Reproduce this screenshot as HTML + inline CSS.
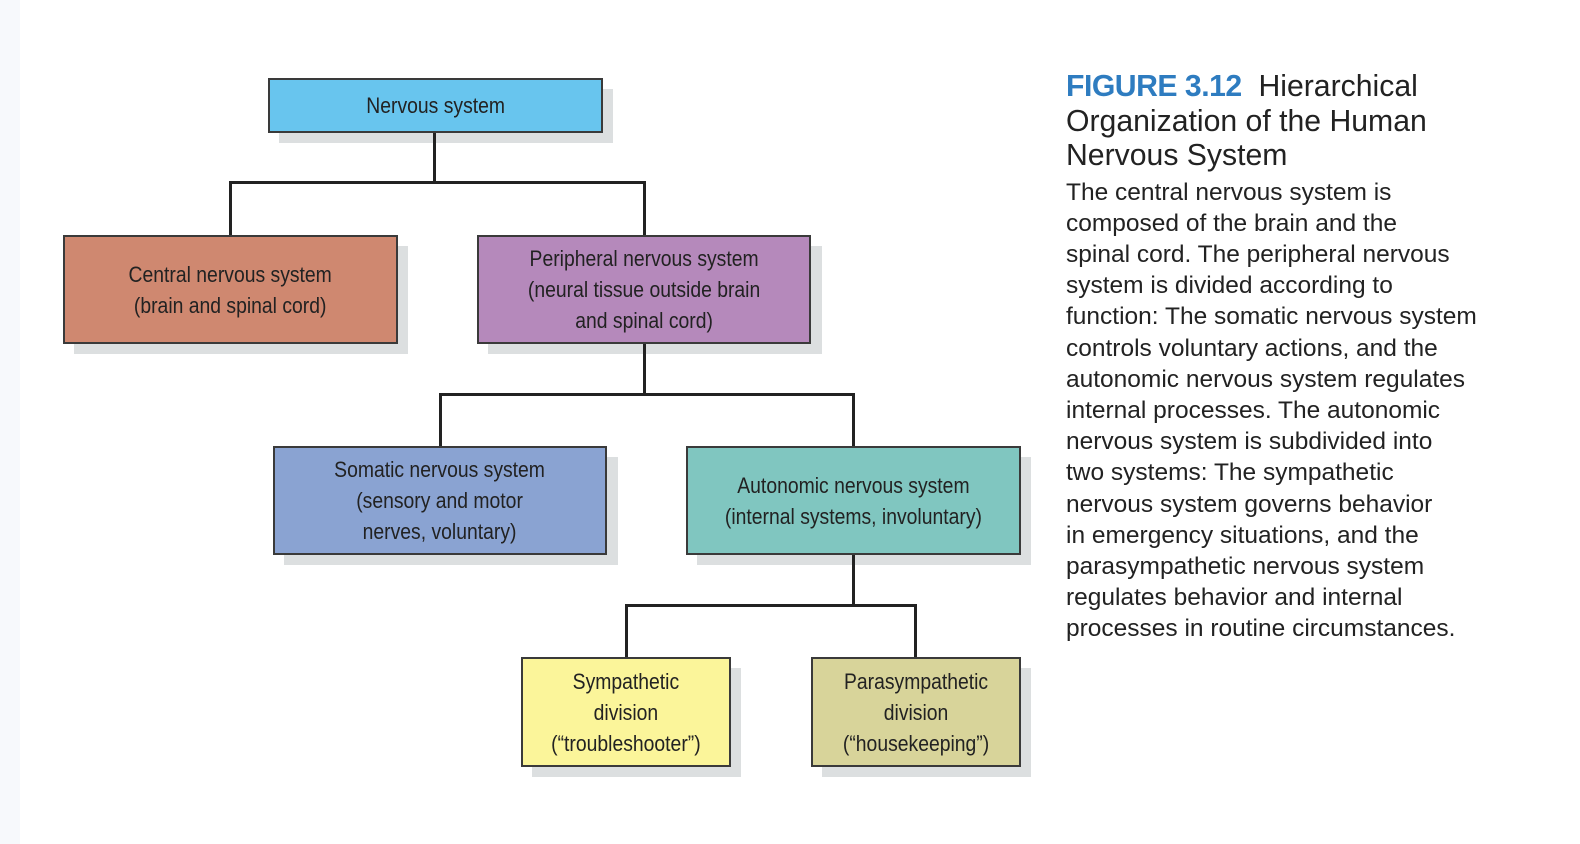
<!DOCTYPE html>
<html><head><meta charset="utf-8"><style>
body{margin:0;width:1580px;height:844px;background:#fff;position:relative;overflow:hidden;font-family:"Liberation Sans",sans-serif}
.sh{position:absolute;background:#dcdfe0}
.b{position:absolute;box-sizing:border-box;border:2px solid #3a3a3a;display:flex;align-items:center;justify-content:center;text-align:center;font-family:"Liberation Sans",sans-serif;font-size:22.5px;line-height:31px;color:#222}
.b span{display:inline-block;transform:scaleX(0.86);white-space:nowrap}
.l{position:absolute;background:#222}
.cap{position:absolute;left:1066px;top:70px;width:500px;color:#222;white-space:nowrap}
.t{font-size:30.2px;line-height:34.5px}
.t b{color:#2e7cc0;font-weight:bold;letter-spacing:-0.5px}
.p{font-size:24.5px;line-height:31.2px;margin-top:3px}
</style></head><body>
<div style="position:absolute;left:0;top:0;width:20px;height:844px;background:#f7f9fc"></div>

<div class="sh" style="left:279px;top:89px;width:334px;height:54px"></div>
<div class="sh" style="left:74px;top:246px;width:334px;height:108px"></div>
<div class="sh" style="left:488px;top:246px;width:334px;height:108px"></div>
<div class="sh" style="left:284px;top:457px;width:334px;height:108px"></div>
<div class="sh" style="left:697px;top:457px;width:334px;height:108px"></div>
<div class="sh" style="left:532px;top:668px;width:209px;height:109px"></div>
<div class="sh" style="left:822px;top:668px;width:209px;height:109px"></div>

<div class="l" style="left:433px;top:132px;width:3px;height:52px"></div>
<div class="l" style="left:229px;top:181px;width:417px;height:3px"></div>
<div class="l" style="left:229px;top:181px;width:3px;height:55px"></div>
<div class="l" style="left:643px;top:181px;width:3px;height:55px"></div>

<div class="l" style="left:643px;top:343px;width:3px;height:52px"></div>
<div class="l" style="left:439px;top:393px;width:416px;height:3px"></div>
<div class="l" style="left:439px;top:393px;width:3px;height:54px"></div>
<div class="l" style="left:852px;top:393px;width:3px;height:54px"></div>

<div class="l" style="left:852px;top:554px;width:3px;height:52px"></div>
<div class="l" style="left:625px;top:604px;width:292px;height:3px"></div>
<div class="l" style="left:625px;top:604px;width:3px;height:54px"></div>
<div class="l" style="left:914px;top:604px;width:3px;height:54px"></div>

<div class="b" style="left:268px;top:78px;width:335px;height:55px;background:#68c5ee"><span>Nervous system</span></div>
<div class="b" style="left:63px;top:235px;width:335px;height:109px;background:#cf8870"><span>Central nervous system<br>(brain and spinal cord)</span></div>
<div class="b" style="left:477px;top:235px;width:334px;height:109px;background:#b589bb"><span>Peripheral nervous system<br>(neural tissue outside brain<br>and spinal cord)</span></div>
<div class="b" style="left:273px;top:446px;width:334px;height:109px;background:#8aa3d2"><span>Somatic nervous system<br>(sensory and motor<br>nerves, voluntary)</span></div>
<div class="b" style="left:686px;top:446px;width:335px;height:109px;background:#80c6c0"><span>Autonomic nervous system<br>(internal systems, involuntary)</span></div>
<div class="b" style="left:521px;top:657px;width:210px;height:110px;background:#fbf59a"><span>Sympathetic<br>division<br>(“troubleshooter”)</span></div>
<div class="b" style="left:811px;top:657px;width:210px;height:110px;background:#d8d49a"><span>Parasympathetic<br>division<br>(“housekeeping”)</span></div>

<div class="cap">
<div class="t"><b>FIGURE 3.12</b>&nbsp; Hierarchical<br>Organization of the Human<br>Nervous System</div>
<div class="p">The central nervous system is<br>composed of the brain and the<br>spinal cord. The peripheral nervous<br>system is divided according to<br>function: The somatic nervous system<br>controls voluntary actions, and the<br>autonomic nervous system regulates<br>internal processes. The autonomic<br>nervous system is subdivided into<br>two systems: The sympathetic<br>nervous system governs behavior<br>in emergency situations, and the<br>parasympathetic nervous system<br>regulates behavior and internal<br>processes in routine circumstances.</div>
</div>
</body></html>
